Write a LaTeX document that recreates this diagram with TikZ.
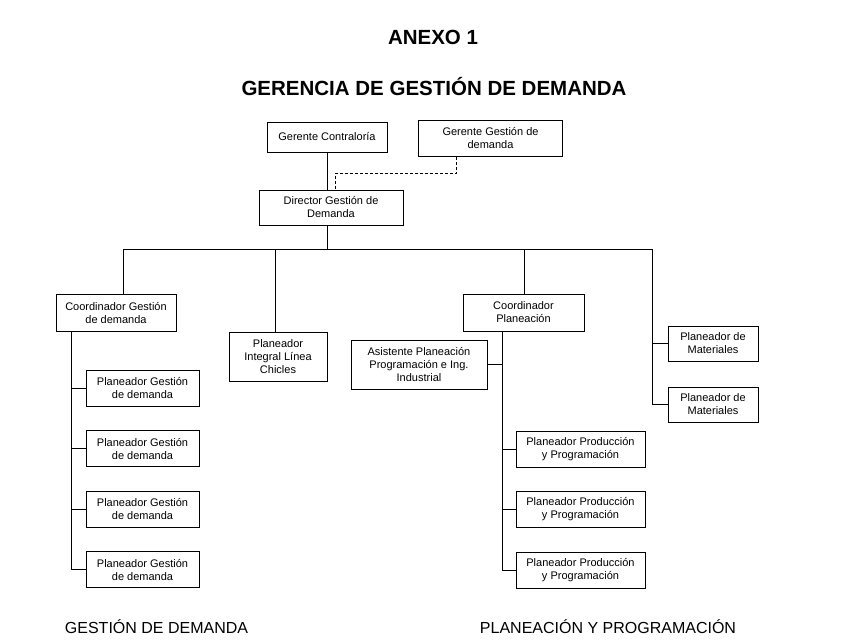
\documentclass[tikz,border=0pt]{standalone}
\usepackage{fontspec}
\setmainfont{Liberation Sans}
\usetikzlibrary{positioning}
\tikzstyle{block} = [draw, rectangle, line width=1pt, align=center, inner sep=2pt,
    font=\fontsize{11}{13}\selectfont]
\tikzstyle{heading} = [font=\fontsize{20.5}{24}\selectfont\bfseries]
\tikzstyle{areatext} = [font=\fontsize{16}{19}\selectfont]
\tikzstyle{link} = [draw, line width=1pt]
\tikzstyle{dotlink} = [draw, line width=1pt, dash pattern=on 3pt off 2pt]

\begin{document}
\begin{tikzpicture}[x=1pt, y=-1pt, node distance=24pt]
    \useasboundingbox (0,0) rectangle (866,642);
    % Titles on top
    \node [heading] (anexo) at (433,37) {ANEXO 1};
    \node [heading] (gerencia) at (434,87) {GERENCIA DE GESTIÓN DE DEMANDA};

    % We place the managers first
    \node [block, minimum width=120pt, minimum height=30pt] (contraloria) at (327,137) {Gerente Contraloría};
    \node [block, minimum width=144pt, minimum height=36pt] (gerente) at (490.5,138.5) {Gerente Gestión de\\demanda};
    \node [block, minimum width=144pt, minimum height=35pt] (director) at (331,207.5) {Director Gestión de\\Demanda};

    % Second level
    \node [block, minimum width=120pt, minimum height=37pt] (coorddem) at (116,312.5) {Coordinador Gestión\\de demanda};
    \node [block, minimum width=98pt, minimum height=49pt] (integral) at (278,356.5) {Planeador\\Integral Línea\\Chicles};
    \node [block, minimum width=121pt, minimum height=37pt] (coordplan) at (523.5,312.5) {Coordinador\\Planeación};
    \node [block, minimum width=136pt, minimum height=49pt] (asistente) at (419,364.5) {Asistente Planeación\\Programación e Ing.\\Industrial};
    \node [block, minimum width=90pt, minimum height=35pt] (mat1) at (713,343.5) {Planeador de\\Materiales};
    \node [block, minimum width=90pt, minimum height=35pt, below=25pt of mat1] (mat2) {Planeador de\\Materiales};

    % Planners under each coordinator
    \node [block, minimum width=113pt, minimum height=36pt] (gest1) at (142.5,388) {Planeador Gestión\\de demanda};
    \node [block, minimum width=113pt, minimum height=36pt, below=23.5pt of gest1] (gest2) {Planeador Gestión\\de demanda};
    \node [block, minimum width=113pt, minimum height=36pt, below=23.5pt of gest2] (gest3) {Planeador Gestión\\de demanda};
    \node [block, minimum width=113pt, minimum height=36pt, below=23.5pt of gest3] (gest4) {Planeador Gestión\\de demanda};
    \node [block, minimum width=129pt, minimum height=36pt] (prod1) at (580.5,449) {Planeador Producción\\y Programación};
    \node [block, minimum width=129pt, minimum height=36pt, below=23.5pt of prod1] (prod2) {Planeador Producción\\y Programación};
    \node [block, minimum width=129pt, minimum height=36pt, below=23.5pt of prod2] (prod3) {Planeador Producción\\y Programación};

    % Area names at the bottom
    \node [areatext] (areadem) at (156.5,627) {GESTIÓN DE DEMANDA};
    \node [areatext] (areaplan) at (608,627) {PLANEACIÓN Y PROGRAMACIÓN};

    % Bus and turning points
    \coordinate (busleft) at (123,249);
    \coordinate (busright) at (652,249);
    \coordinate (dropint) at (275,249);
    \coordinate (dropplan) at (524,249);
    \coordinate (bend) at (335,173);

    % Now the lines between the blocks
    \draw [link] (contraloria.south) -- (contraloria.south |- director.north);
    \draw [dotlink] ([xshift=-34pt]gerente.south) |- (bend) -- (bend |- director.north);
    \draw [link] (contraloria.south |- director.south) -- (contraloria.south |- busleft);
    \draw [link] (busleft |- coorddem.north) -- (busleft) -- (busright) |- (mat2.west);
    \draw [link] (mat1.west) -- (mat1.west -| busright);
    \draw [link] (dropint) -- (dropint |- integral.north);
    \draw [link] (dropplan) -- (dropplan |- coordplan.north);

    \draw [link] ([xshift=-45pt]coorddem.south) |- (gest4.west);
    \draw [link] (gest1.west) -- ++(-15pt,0);
    \draw [link] (gest2.west) -- ++(-15pt,0);
    \draw [link] (gest3.west) -- ++(-15pt,0);

    \draw [link] ([xshift=-21.5pt]coordplan.south) |- (prod3.west);
    \draw [link] (asistente.east) -- ++(15pt,0);
    \draw [link] (prod1.west) -- ++(-14pt,0);
    \draw [link] (prod2.west) -- ++(-14pt,0);
\end{tikzpicture}
\end{document}
